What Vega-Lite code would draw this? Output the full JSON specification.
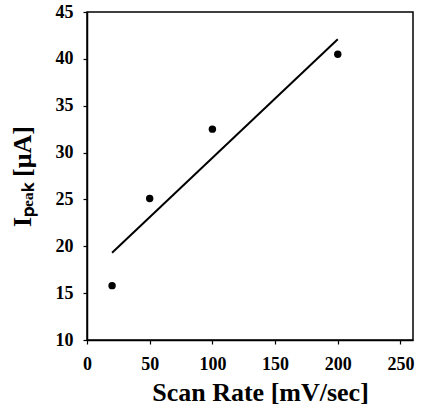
{
  "$schema": "https://vega.github.io/schema/vega-lite/v6.json",
  "width": 326,
  "height": 328,
  "autosize": "none",
  "padding": {"left": 87, "top": 12, "right": 18, "bottom": 72},
  "background": "white",
  "config": {
    "view": {"stroke": "black", "strokeWidth": 1.5},
    "font": "Liberation Serif",
    "axis": {
      "grid": false,
      "domainColor": "black",
      "domainWidth": 1.5,
      "tickColor": "black",
      "tickSize": 4,
      "tickWidth": 1.2,
      "labelFont": "Liberation Serif",
      "labelFontWeight": "bold",
      "labelFontSize": 18,
      "labelColor": "black",
      "titleFont": "Liberation Serif",
      "titleFontWeight": "bold",
      "titleFontSize": 26,
      "titleColor": "black"
    }
  },
  "datasets": {
    "points": [
      {"rate": 20, "ipeak": 15.8},
      {"rate": 50, "ipeak": 25.1},
      {"rate": 100, "ipeak": 32.5},
      {"rate": 200, "ipeak": 40.5}
    ],
    "fit": [
      {"rate": 20, "ipeak": 19.3},
      {"rate": 200, "ipeak": 42.1}
    ]
  },
  "layer": [
    {
      "data": {"name": "fit"},
      "mark": {"type": "line", "color": "black", "strokeWidth": 2},
      "encoding": {
        "x": {"field": "rate", "type": "quantitative", "scale": {"domain": [0, 250]},
              "axis": {"title": "Scan Rate [mV/sec]", "values": [0, 50, 100, 150, 200, 250], "labelPadding": 11, "titlePadding": 6, "titleX": 173, "labelFlush": false}},
        "y": {"field": "ipeak", "type": "quantitative", "scale": {"domain": [10, 45]},
              "axis": {"title": "Iₚₑₐₖ [μA]", "values": [10, 15, 20, 25, 30, 35, 40, 45], "labelPadding": 10, "titlePadding": 20, "labelFlush": false}}
      }
    },
    {
      "data": {"name": "points"},
      "mark": {"type": "point", "filled": true, "color": "black", "size": 55, "opacity": 1},
      "encoding": {
        "x": {"field": "rate", "type": "quantitative"},
        "y": {"field": "ipeak", "type": "quantitative"}
      }
    }
  ]
}
